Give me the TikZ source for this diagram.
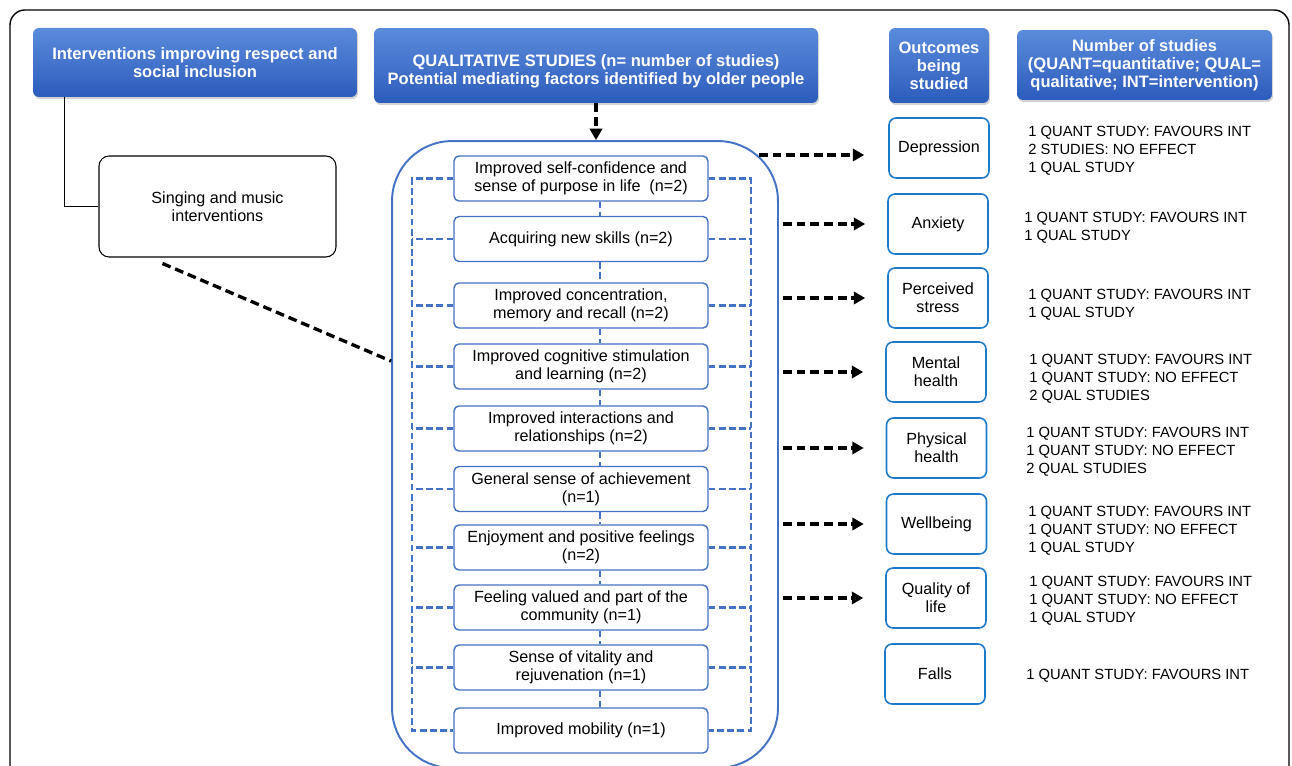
\documentclass[tikz,border=0pt]{standalone}
\usepackage{fontspec}
\setmainfont{Liberation Sans}
\usetikzlibrary{calc,arrows.meta,shadows}
\definecolor{hdrtop}{HTML}{5B8BDB}
\definecolor{hdrbot}{HTML}{2C5CBC}
\definecolor{factblue}{HTML}{4472C4}
\definecolor{outblue}{HTML}{1F7ACB}
\newcommand{\boxfont}{\fontsize{9.2}{10.2}\selectfont}
\newcommand{\hdrfont}{\fontsize{9.4}{10.2}\selectfont\bfseries}
\newcommand{\cntfont}{\fontsize{8.4}{10.2}\selectfont}

\begin{document}
\begin{tikzpicture}[x=0.02cm,y=-0.02cm,
	header/.style={rounded corners=0.12cm, top color=hdrtop, bottom color=hdrbot, text=white, font=\hdrfont, align=center, inner sep=0pt, drop shadow={shadow xshift=0.6pt, shadow yshift=-1.2pt, opacity=0.35}},
	factor/.style={draw=factblue, line width=0.8pt, rounded corners=0.1cm, fill=white, minimum width=5.08cm, minimum height=0.9cm, align=center, inner sep=0pt, font=\boxfont},
	outcome/.style={draw=outblue, line width=0.9pt, rounded corners=0.14cm, minimum width=2cm, minimum height=1.2cm, align=center, inner sep=0pt, font=\boxfont},
	count/.style={anchor=west, align=left, inner sep=0pt, font=\cntfont},
	bluedash/.style={draw=factblue, line width=1.15pt, dash pattern=on 3.8pt off 2pt},
	linkdash/.style={line width=1.9pt, dash pattern=on 5pt off 2.8pt},
	linkarrow/.style={linkdash, -{Triangle[length=6.5pt,width=7pt]}}]
	\useasboundingbox (0,0) rectangle (1292,766);
	
	%frame
	\draw[line width=0.8pt, rounded corners=0.3cm] (10,10) rectangle (1289,830);
	
	%headers
	\node[header, minimum width=6.48cm, minimum height=1.38cm] (hdrint) at (195,62.5) {Interventions improving respect and\\social inclusion};
	\node[header, minimum width=8.88cm, minimum height=1.5cm] (hdrqual) at (596,65.5) {\rule{0pt}{2.6ex}QUALITATIVE STUDIES (n= number of studies)\\Potential mediating factors identified by older people};
	\node[header, minimum width=2cm, minimum height=1.5cm] (hdrout) at (939,65.5) {Outcomes\\being\\studied};
	\node[header, minimum width=5.1cm, minimum height=1.4cm] (hdrnum) at (1144.5,65) {Number of studies\\(QUANT=quantitative; QUAL=\\qualitative; INT=intervention)};
	
	%intervention
	\node[draw, line width=0.6pt, rounded corners=0.2cm, minimum width=4.74cm, minimum height=2.02cm, align=center, font=\boxfont] (sing) at (217.5,206.5) {Singing and music\\interventions};
	\draw[line width=0.6pt] (hdrint.south west) ++(32,0) |- (sing.west);
	
	%container
	\node[draw=factblue, line width=1.1pt, rounded corners=1.2cm, minimum width=7.72cm, minimum height=12.54cm] (cont) at (585,454.5) {};
	
	%factors
	\node[factor] (f1) at (581,178.5) {Improved self-confidence and\\sense of purpose in life~ (n=2)};
	\node[factor] (f2) at (581,239) {Acquiring new skills (n=2)};
	\node[factor] (f3) at (581,305.5) {Improved concentration,\\memory and recall (n=2)};
	\node[factor] (f4) at (581,366.5) {Improved cognitive stimulation\\and learning (n=2)};
	\node[factor] (f5) at (581,428.5) {Improved interactions and\\relationships (n=2)};
	\node[factor] (f6) at (581,489) {General sense of achievement\\(n=1)};
	\node[factor] (f7) at (581,547.5) {Enjoyment and positive feelings\\(n=2)};
	\node[factor] (f8) at (581,607.5) {Feeling valued and part of the\\community (n=1)};
	\node[factor] (f9) at (581,667.5) {Sense of vitality and\\rejuvenation (n=1)};
	\node[factor] (f10) at (581,730.5) {Improved mobility (n=1)};
	
	%factor links
	\coordinate (vx) at (600,0);
	\coordinate (lx) at (412,0);
	\coordinate (rx) at (751,0);
	\foreach \a/\b in {1/2,2/3,3/4,4/5,5/6,6/7,7/8,8/9,9/10}
		\draw[bluedash] (f\a.south -| vx) -- (f\b.north -| vx);
	\draw[bluedash] (f1.west) -- (f1.west -| lx) -- (f10.west -| lx) -- (f10.west);
	\draw[bluedash] (f1.east) -- (f1.east -| rx) -- (f10.east -| rx) -- (f10.east);
	\foreach \n in {2,...,9} {
		\draw[bluedash] (f\n.west) -- (f\n.west -| lx);
		\draw[bluedash] (f\n.east) -- (f\n.east -| rx);
	}
	
	%outcomes
	\node[outcome] (o1) at (939,148) {Depression};
	\node[outcome] (o2) at (938,224) {Anxiety};
	\node[outcome] (o3) at (938,298) {Perceived\\stress};
	\node[outcome] (o4) at (936,372) {Mental\\health};
	\node[outcome] (o5) at (936.5,448) {Physical\\health};
	\node[outcome] (o6) at (936.5,524) {Wellbeing};
	\node[outcome] (o7) at (936,598) {Quality of\\life};
	\node[outcome] (o8) at (935,674) {Falls};
	
	%arrows
	\draw[linkdash] ($(sing.south west)+(64,6)$) -- ($(cont.north west)+(0,221)$);
	\draw[linkarrow] (hdrqual.south) -- (hdrqual.south |- cont.north);
	\draw[linkarrow] ($(o1.west -| cont.east)+(-20,7)$) -- ($(o1.west)+(-24,7)$);
	\foreach \n in {2,...,7}
		\draw[linkarrow] ($(o\n.west -| cont.east)+(4,0)$) -- ($(o\n.west)+(-22,0)$);
	
	%number of studies
	\node[count] (c1) at (1028,151) {1 QUANT STUDY: FAVOURS INT\\2 STUDIES: NO EFFECT\\1 QUAL STUDY};
	\node[count] (c2) at (1024,228) {1 QUANT STUDY: FAVOURS INT\\1 QUAL STUDY};
	\node[count] (c3) at (1028,305) {1 QUANT STUDY: FAVOURS INT\\1 QUAL STUDY};
	\node[count] (c4) at (1029,379) {1 QUANT STUDY: FAVOURS INT\\1 QUANT STUDY: NO EFFECT\\2 QUAL STUDIES};
	\node[count] (c5) at (1026,452) {1 QUANT STUDY: FAVOURS INT\\1 QUANT STUDY: NO EFFECT\\2 QUAL STUDIES};
	\node[count] (c6) at (1028,531) {1 QUANT STUDY: FAVOURS INT\\1 QUANT STUDY: NO EFFECT\\1 QUAL STUDY};
	\node[count] (c7) at (1029,601) {1 QUANT STUDY: FAVOURS INT\\1 QUANT STUDY: NO EFFECT\\1 QUAL STUDY};
	\node[count] (c8) at (1026,676) {1 QUANT STUDY: FAVOURS INT};
\end{tikzpicture}
\end{document}
